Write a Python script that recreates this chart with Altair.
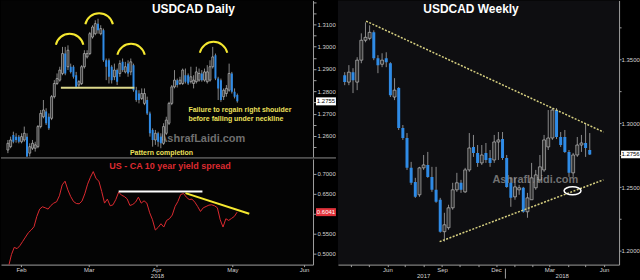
import json
import altair as alt
import pandas as pd

FONT = "Liberation Sans"

# ---------------- USDCAD daily candles (trading-day index) ----------------
d_open = [1.2537, 1.2552, 1.2604, 1.2597, 1.2597, 1.2574, 1.2582, 1.2597, 1.2523, 1.2545,
          1.2545, 1.2552, 1.2642, 1.2686, 1.2709, 1.2686, 1.2679, 1.2776, 1.2835, 1.2850,
          1.2880, 1.2969, 1.2910, 1.2910, 1.2910, 1.2872, 1.2828, 1.2835, 1.2910, 1.2954,
          1.2969, 1.3043, 1.3058, 1.3103, 1.3058, 1.3073, 1.2939, 1.2939, 1.2910, 1.2865,
          1.2895, 1.2880, 1.2932, 1.2887, 1.2924, 1.2887, 1.2917, 1.2805, 1.2790, 1.2768,
          1.2746, 1.2761, 1.2701, 1.2627, 1.2582, 1.2612, 1.2597, 1.2567, 1.2612, 1.2657,
          1.2746, 1.2820, 1.2850, 1.2835, 1.2835, 1.2872, 1.2872, 1.2843, 1.2835, 1.2843,
          1.2850, 1.2880, 1.2850, 1.2843, 1.2850, 1.2910, 1.2962, 1.2857, 1.2850, 1.2776,
          1.2790, 1.2805, 1.2880, 1.2798, 1.2783]
d_close = [1.2567, 1.2582, 1.2574, 1.2582, 1.2574, 1.2597, 1.2612, 1.2508, 1.2552, 1.2567,
           1.2560, 1.2642, 1.2701, 1.2716, 1.2657, 1.2634, 1.2776, 1.2835, 1.2857, 1.2895,
           1.2969, 1.2880, 1.2984, 1.2887, 1.2865, 1.2820, 1.2843, 1.2910, 1.2969, 1.2969,
           1.3058, 1.3088, 1.3103, 1.3073, 1.3081, 1.2939, 1.2910, 1.2865, 1.2850, 1.2895,
           1.2843, 1.2924, 1.2895, 1.2910, 1.2880, 1.2932, 1.2805, 1.2761, 1.2761, 1.2790,
           1.2790, 1.2701, 1.2612, 1.2582, 1.2612, 1.2574, 1.2567, 1.2642, 1.2671, 1.2746,
           1.2820, 1.2850, 1.2828, 1.2850, 1.2895, 1.2843, 1.2835, 1.2865, 1.2850, 1.2887,
           1.2880, 1.2850, 1.2887, 1.2887, 1.2910, 1.2954, 1.2857, 1.2813, 1.2761, 1.2805,
           1.2813, 1.2880, 1.2798, 1.2776, 1.2755]
d_high = [1.2582, 1.2597, 1.2619, 1.2612, 1.2604, 1.2612, 1.2642, 1.2612, 1.2567, 1.2582,
          1.2574, 1.2649, 1.2716, 1.2761, 1.2724, 1.2701, 1.2783, 1.2850, 1.2880, 1.2910,
          1.2999, 1.2999, 1.3006, 1.2924, 1.2917, 1.2887, 1.2850, 1.2917, 1.2984, 1.2984,
          1.3066, 1.3096, 1.3118, 1.3125, 1.3096, 1.3081, 1.2947, 1.2947, 1.2917, 1.2924,
          1.2902, 1.2939, 1.2947, 1.2932, 1.2939, 1.2947, 1.2924, 1.2820, 1.2805, 1.2813,
          1.2813, 1.2776, 1.2709, 1.2634, 1.2627, 1.2619, 1.2612, 1.2657, 1.2686, 1.2753,
          1.2828, 1.2895, 1.2857, 1.2865, 1.2902, 1.2902, 1.2880, 1.2910, 1.2872, 1.2910,
          1.2902, 1.2895, 1.2902, 1.2917, 1.2939, 1.2999, 1.2969, 1.2865, 1.2857, 1.2813,
          1.2828, 1.2924, 1.2887, 1.2813, 1.2790]
d_low = [1.2523, 1.2545, 1.2567, 1.2570, 1.2567, 1.2567, 1.2574, 1.2500, 1.2508, 1.2537,
         1.2530, 1.2545, 1.2634, 1.2679, 1.2649, 1.2627, 1.2671, 1.2768, 1.2828, 1.2843,
         1.2872, 1.2872, 1.2895, 1.2880, 1.2857, 1.2813, 1.2817, 1.2828, 1.2902, 1.2947,
         1.2962, 1.3036, 1.3051, 1.3058, 1.3051, 1.2932, 1.2850, 1.2835, 1.2835, 1.2850,
         1.2828, 1.2865, 1.2887, 1.2880, 1.2865, 1.2872, 1.2798, 1.2753, 1.2746, 1.2761,
         1.2738, 1.2694, 1.2597, 1.2552, 1.2560, 1.2552, 1.2545, 1.2560, 1.2604, 1.2649,
         1.2738, 1.2813, 1.2817, 1.2828, 1.2828, 1.2835, 1.2828, 1.2835, 1.2813, 1.2835,
         1.2843, 1.2843, 1.2843, 1.2835, 1.2843, 1.2902, 1.2850, 1.2761, 1.2753, 1.2761,
         1.2776, 1.2798, 1.2790, 1.2768, 1.2749]

# ---------------- US - CA 10 year yield spread (same trading-day index, from day 2) ----------------
spread_first_day = 2
spread = [0.4683, 0.4975, 0.5158, 0.5125, 0.5200, 0.5308, 0.5417, 0.5525, 0.5592, 0.5675,
          0.5933, 0.6117, 0.6175, 0.6150, 0.6117, 0.6208, 0.6267, 0.6300, 0.6450, 0.6725,
          0.6817, 0.6600, 0.6433, 0.6308, 0.6258, 0.6250, 0.6317, 0.6500, 0.6742, 0.6917,
          0.7058, 0.6883, 0.6817, 0.6558, 0.6267, 0.6367, 0.6200, 0.6225, 0.6358, 0.6542,
          0.6467, 0.6433, 0.6375, 0.6208, 0.6233, 0.6292, 0.6417, 0.6267, 0.6325, 0.6267,
          0.6025, 0.5850, 0.5592, 0.5658, 0.5750, 0.5667, 0.5833, 0.5875, 0.5967, 0.6183,
          0.6308, 0.6483, 0.6508, 0.6417, 0.6358, 0.6367, 0.6292, 0.6183, 0.6058, 0.6150,
          0.6183, 0.6217, 0.6225, 0.6200, 0.6150, 0.5850, 0.5667, 0.5875, 0.5833, 0.5883,
          0.5933, 0.6041]

# ---------------- USDCAD weekly candles ----------------
w_first_week = "2017-03-21"
w_open = [1.3377, 1.3323, 1.3401, 1.3323, 1.3495, 1.3651, 1.3666, 1.3713, 1.3510, 1.3463,
          1.3510, 1.3471, 1.3206, 1.3276, 1.2963, 1.2885, 1.2651, 1.2541, 1.2440, 1.2651,
          1.2674, 1.2580, 1.2479, 1.2401, 1.2151, 1.2182, 1.2338, 1.2479, 1.2534, 1.2463,
          1.2635, 1.2815, 1.2768, 1.2690, 1.2768, 1.2729, 1.2713, 1.2854, 1.2877, 1.2729,
          1.2534, 1.2424, 1.2479, 1.2495, 1.2307, 1.2401, 1.2495, 1.2557, 1.2635, 1.2815,
          1.2885, 1.3104, 1.2893, 1.2893, 1.2776, 1.2612, 1.2752, 1.2830, 1.2846, 1.2791]
w_close = [1.3323, 1.3401, 1.3338, 1.3495, 1.3651, 1.3674, 1.3713, 1.3510, 1.3456, 1.3495,
           1.3479, 1.3221, 1.3260, 1.2963, 1.2885, 1.2651, 1.2534, 1.2424, 1.2651, 1.2674,
           1.2580, 1.2479, 1.2385, 1.2151, 1.2205, 1.2338, 1.2479, 1.2534, 1.2479, 1.2635,
           1.2807, 1.2768, 1.2690, 1.2752, 1.2713, 1.2690, 1.2854, 1.2870, 1.2729, 1.2502,
           1.2416, 1.2502, 1.2495, 1.2307, 1.2416, 1.2573, 1.2596, 1.2659, 1.2870, 1.2885,
           1.3104, 1.2893, 1.2830, 1.2776, 1.2612, 1.2752, 1.2830, 1.2846, 1.2807, 1.2756]
w_high = [1.3401, 1.3456, 1.3432, 1.3518, 1.3705, 1.3791, 1.3768, 1.3729, 1.3534, 1.3549,
          1.3557, 1.3479, 1.3354, 1.3284, 1.2987, 1.2924, 1.2698, 1.2573, 1.2659, 1.2752,
          1.2776, 1.2659, 1.2659, 1.2416, 1.2299, 1.2362, 1.2534, 1.2612, 1.2557, 1.2651,
          1.2924, 1.2909, 1.2830, 1.2830, 1.2846, 1.2791, 1.2909, 1.2932, 1.2932, 1.2752,
          1.2573, 1.2573, 1.2518, 1.2502, 1.2455, 1.2690, 1.2635, 1.2752, 1.2909, 1.3104,
          1.3120, 1.3120, 1.2932, 1.2948, 1.2791, 1.2768, 1.2893, 1.2909, 1.3002, 1.2924]
w_low = [1.3299, 1.3299, 1.3237, 1.3260, 1.3471, 1.3635, 1.3651, 1.3495, 1.3393, 1.3440,
         1.3440, 1.3206, 1.3182, 1.2948, 1.2870, 1.2635, 1.2518, 1.2416, 1.2424, 1.2635,
         1.2573, 1.2463, 1.2377, 1.2143, 1.2073, 1.2166, 1.2323, 1.2463, 1.2455, 1.2455,
         1.2620, 1.2737, 1.2659, 1.2674, 1.2690, 1.2659, 1.2690, 1.2713, 1.2713, 1.2495,
         1.2346, 1.2401, 1.2440, 1.2299, 1.2260, 1.2401, 1.2479, 1.2541, 1.2620, 1.2791,
         1.2870, 1.2877, 1.2815, 1.2768, 1.2580, 1.2580, 1.2737, 1.2776, 1.2737, 1.2752]

# ---------------- axis labels ----------------
d_month_pos = [6.4, 30.4, 54.4, 81.3, 106.7]
d_month_lbl = ["Feb", "Mar", "Apr", "May", "Jun"]

# ---------------- annotations (data coordinates) ----------------
neck_i = [19.4, 46.3]
neck_p = [1.2816, 1.2816]
arc_i = [22.6, 33.4, 45.1, 75.3]
arc_p = [1.3033, 1.3125, 1.2988, 1.2997]
flat_i = [41.0, 70.7]
flat_v = [0.6558, 0.6558]
fall_i = [64.7, 87.3]
fall_v = [0.6517, 0.6000]
w_up_d = ["2017-04-26", "2018-05-31"]
w_up_p = [1.3801, 1.2932]
w_lo_d = ["2017-08-28", "2018-05-31"]
w_lo_p = [1.2073, 1.2557]
ring_d = ["2018-04-09"]
ring_p = [1.2471]
d_last, s_last, w_last = 1.2755, 0.6041, 1.2756

# ---------------- styles ----------------
WD, HT, HB = 313, 157, 106
WW, HW = 282, 265
AX = "#a0a0a0"
LB = "#d2d2d2"
BLUE = "#2f8be6"
UPF = "#2e2e2e"
UPS = "#cfcfcf"
WICK = "#a8a8a8"
YEL = "#f5e830"
NECK = "#ddd98c"
TYEL = "#ece05a"
TREND = "#d6cf80"
RED = "#dc2a30"
WM = "#8a8a8a"

ONE = pd.DataFrame({"k": [0]})

ddf = pd.DataFrame({"i": range(len(d_open)), "o": d_open, "h": d_high, "l": d_low, "c": d_close})
sdf = pd.DataFrame({"i": range(spread_first_day, spread_first_day + len(spread)), "v": spread})
wdf = pd.DataFrame({"d": pd.date_range(w_first_week, periods=len(w_open), freq="7D"),
                    "o": w_open, "h": w_high, "l": w_low, "c": w_close})


def axis(**kw):
    base = dict(title=None, grid=False, labelFont=FONT, labelFontSize=6, labelColor=LB,
                domainColor=AX, tickColor=AX, tickSize=3, labelPadding=1, domainWidth=1)
    base.update(kw)
    return alt.Axis(**base)


def label(txt, x, y, size, color, weight="bold", align="center", opacity=1.0):
    return alt.Chart(ONE).mark_text(text=txt, font=FONT, fontSize=size, fontWeight=weight,
                                    color=color, align=align, baseline="middle",
                                    opacity=opacity).encode(x=alt.value(x), y=alt.value(y))


def candles(df, x, yf, size):
    wick = alt.Chart(df).mark_rule(color=WICK, strokeWidth=0.8, clip=True).encode(
        x=x, y=yf("l"), y2="h")
    up = alt.Chart(df).transform_filter("datum.c >= datum.o").mark_bar(
        size=size, fill=UPF, stroke=UPS, strokeWidth=0.6, clip=True).encode(x=x, y=yf("o"), y2="c")
    dn = alt.Chart(df).transform_filter("datum.c < datum.o").mark_bar(
        size=size, color=BLUE, clip=True).encode(x=x, y=yf("o"), y2="c")
    return [wick, up, dn]


ARC = "M -1 0.4 A 1.025 1.025 0 0 1 1 0.4"
BOX = "M -1 -0.4 L 1 -0.4 L 1 0.4 L -1 0.4 Z"
ELL = "M -1 0 A 1 0.47 0 1 0 1 0 A 1 0.47 0 1 0 -1 0 Z"

# ---------------- daily, top panel ----------------
sc_xd = alt.Scale(domain=[-0.7, 109.9], nice=False, zero=False)
x_top = alt.X("i:Q", scale=sc_xd, axis=None)
top_ticks = [round(1.255 + 0.005 * k, 3) for k in range(14)]
ax_top = axis(orient="right", values=top_ticks,
              labelExpr="(abs(datum.value*100 - round(datum.value*100)) < 0.01 && datum.value < 1.318) ? format(datum.value, '.4f') : ''")
sc_top = alt.Scale(domain=[1.2506, 1.3207], nice=False, zero=False)


def ytop(f):
    return alt.Y(f, type="quantitative", scale=sc_top, axis=ax_top)


top_layers = [label("AshrafLaidi.com", 202, 139, 11, WM, opacity=0.8)]
top_layers += candles(ddf, x_top, ytop, 2)
top_layers += [
    alt.Chart(pd.DataFrame({"i": neck_i, "p": neck_p})).mark_line(color=NECK, strokeWidth=2).encode(
        x=x_top, y=ytop("p")),
    alt.Chart(pd.DataFrame({"i": arc_i, "p": arc_p})).mark_point(
        shape=ARC, filled=False, color=YEL, strokeWidth=2, size=760, opacity=1).encode(x=x_top, y=ytop("p")),
    label("USDCAD Daily", 193, 9, 12, "white"),
    label("Failure to regain right shoulder", 188, 110, 7, TYEL, align="left"),
    label("before falling  under neckline", 188, 118.5, 7, TYEL, align="left"),
    label("Pattern completion", 161, 153, 7, TYEL),
    alt.Chart(pd.DataFrame({"p": [d_last]})).mark_point(
        shape=BOX, filled=True, color="white", size=400, opacity=1).encode(x=alt.value(WD + 13), y=ytop("p")),
    alt.Chart(pd.DataFrame({"p": [d_last]})).mark_text(font=FONT, fontSize=6, color="black").encode(
        x=alt.value(WD + 13), y=ytop("p"), text=alt.Text("p:Q", format=".4f")),
]
top = alt.layer(*top_layers).properties(width=WD, height=HT,
                                        view=alt.ViewBackground(fill="#040404", strokeWidth=0))

# ---------------- daily, bottom panel ----------------
ax_xd = axis(values=d_month_pos, tickSize=2, labelPadding=0,
             labelExpr=json.dumps(d_month_lbl) + "[indexof(" + json.dumps(d_month_pos) + ", datum.value)]")
x_bot = alt.X("i:Q", scale=sc_xd, axis=ax_xd)
sc_bot = alt.Scale(domain=[0.4725, 0.7375], nice=False, zero=False)
# the 0.6000 label sits under the last-value box, as in the reference
ax_bot = axis(orient="right", values=[0.5, 0.55, 0.6, 0.65, 0.7],
              labelExpr="abs(datum.value - 0.6) < 0.001 ? '' : format(datum.value, '.4f')")


def ybot(f):
    return alt.Y(f, type="quantitative", scale=sc_bot, axis=ax_bot)


bottom = alt.layer(
    alt.Chart(ONE).mark_rule(color="#8c8c8c", strokeWidth=1).encode(
        x=alt.value(0), x2=alt.value(WD + 23), y=alt.value(-1)),
    alt.Chart(sdf).mark_line(color=RED, strokeWidth=1, clip=True).encode(x=x_bot, y=ybot("v")),
    alt.Chart(pd.DataFrame({"i": flat_i, "v": flat_v})).mark_line(color="white", strokeWidth=2).encode(
        x=x_bot, y=ybot("v")),
    alt.Chart(pd.DataFrame({"i": fall_i, "v": fall_v})).mark_line(color=YEL, strokeWidth=2).encode(
        x=x_bot, y=ybot("v")),
    label("US - CA 10 year yield spread", 169.5, 7, 9, RED),
    label("2018", 157, HB + 11, 6, LB, weight="normal"),
    alt.Chart(pd.DataFrame({"v": [s_last]})).mark_point(
        shape=BOX, filled=True, color="#e2333b", size=400, opacity=1).encode(x=alt.value(WD + 13), y=ybot("v")),
    alt.Chart(pd.DataFrame({"v": [s_last]})).mark_text(font=FONT, fontSize=6, color="white").encode(
        x=alt.value(WD + 13), y=ybot("v"), text=alt.Text("v:Q", format=".4f")),
).properties(width=WD, height=HB, view=alt.ViewBackground(fill="#040404", strokeWidth=0))

daily = alt.vconcat(top, bottom, spacing=2, bounds="flush")

# ---------------- weekly ----------------
w_month_ticks = [alt.DateTime(year=2017 + (m - 1) // 12, month=(m - 1) % 12 + 1, date=1) for m in range(4, 19)]
ax_wx = axis(values=w_month_ticks, tickSize=2, labelPadding=0,
             labelExpr="indexof([2,5,8,11], month(datum.value)) >= 0 ? timeFormat(datum.value, '%b') : ''")
x_w = alt.X("d:T", axis=ax_wx, scale=alt.Scale(domain=[alt.DateTime(year=2017, month=3, date=18),
                                                        alt.DateTime(year=2018, month=6, date=18)]))
w_ticks = [round(1.2 + 0.025 * k, 3) for k in range(8)]
ax_wy = axis(orient="right", values=w_ticks, tickSize=2, labelPadding=0,
             labelExpr="abs(datum.value*20 - round(datum.value*20)) < 0.01 ? format(datum.value, '.4f') : ''")
sc_wy = alt.Scale(domain=[1.1893, 1.3963], nice=False, zero=False)


def yw(f):
    return alt.Y(f, type="quantitative", scale=sc_wy, axis=ax_wy)


trend = pd.DataFrame({"d": pd.to_datetime(w_up_d + w_lo_d), "p": w_up_p + w_lo_p,
                      "g": ["u", "u", "l", "l"]})
w_layers = [label("AshrafLaidi.com", 198, 180, 11, WM, opacity=0.8)]
w_layers += candles(wdf, x_w, yw, 3)
w_layers += [
    alt.Chart(trend).mark_line(color=TREND, strokeWidth=1.5, strokeDash=[2, 1.5]).encode(
        x=x_w, y=yw("p"), detail="g:N"),
    alt.Chart(pd.DataFrame({"d": pd.to_datetime(ring_d), "p": ring_p})).mark_point(
        shape=ELL, filled=False, color="white", strokeWidth=1.5, size=289, opacity=1).encode(x=x_w, y=yw("p")),
    label("USDCAD Weekly", 133.5, 9, 12, "white"),
    label("2017", 86, HW + 11, 6, LB, weight="normal"),
    label("2018", 225, HW + 11, 6, LB, weight="normal"),
    alt.Chart(ONE).mark_rule(color=AX, strokeWidth=1).encode(
        x=alt.value(168), y=alt.value(HW + 4), y2=alt.value(HW + 14)),
    alt.Chart(pd.DataFrame({"p": [w_last]})).mark_point(
        shape=BOX, filled=True, color="white", size=361, opacity=1).encode(x=alt.value(WW + 11.5), y=yw("p")),
    alt.Chart(pd.DataFrame({"p": [w_last]})).mark_text(font=FONT, fontSize=6, color="black").encode(
        x=alt.value(WW + 11.5), y=yw("p"), text=alt.Text("p:Q", format=".4f")),
]
weekly = alt.layer(*w_layers).properties(width=WW, height=HW,
                                         view=alt.ViewBackground(fill="#0e0e11", strokeWidth=0))

chart = alt.hconcat(daily, weekly, spacing=1).properties(
    background="#000000", padding=0).configure_view(strokeWidth=0)

chart.save("out.html", embed_options={"renderer": "svg", "actions": False})
